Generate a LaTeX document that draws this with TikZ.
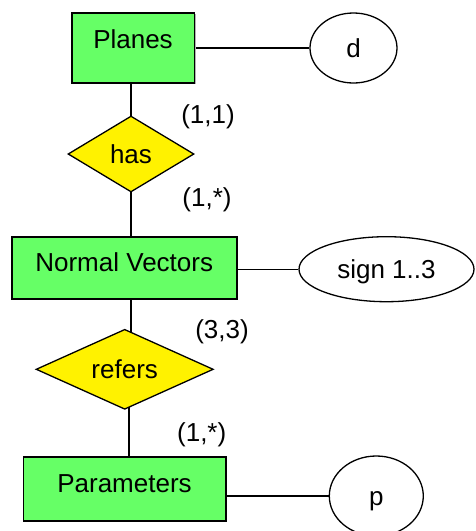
\documentclass[tikz,border=0pt]{standalone}
\usepackage{fontspec}
\setmainfont{Liberation Sans}
\usetikzlibrary{shapes.geometric,backgrounds,shadows}
\definecolor{entgreen}{HTML}{66FF66}
\begin{document}
\begin{tikzpicture}[x=1pt,y=-1pt,
  every node/.style={font=\fontsize{26}{31}\selectfont},
  entity/.style={rectangle, draw, line width=1.6pt, fill=entgreen, inner sep=0pt, text height=19pt,
    drop shadow={shadow xshift=1.3pt, shadow yshift=-1.3pt, fill=black!30, opacity=1}},
  relation/.style={diamond, draw, line width=1.3pt, fill=yellow, inner sep=0pt, text height=19pt, text depth=0pt},
  attribute/.style={ellipse, draw, line width=1.3pt, fill=white, inner sep=0pt, text height=19pt, text depth=0pt},
  link/.style={line width=1.3pt},
  card/.style={inner sep=0pt}]
\useasboundingbox (0,0) rectangle (475,531);
\node[entity, minimum width=122.6pt, minimum height=70pt, text depth=18pt] (planes) at (133,47.7) {Planes};
\node[entity, minimum width=225pt, minimum height=62.3pt, text depth=12pt] (nv) at (124.2,267.9) {Normal Vectors};
\node[entity, minimum width=202.4pt, minimum height=64pt, text depth=11.4pt] (params) at (124.5,488.7) {Parameters};
\node[relation, aspect=1.66, minimum width=126pt, minimum height=76pt] (has) at (131,154) {has};
\node[relation, aspect=2.2, minimum width=177.3pt, minimum height=80pt] (refers) at (124.7,369.3) {refers};
\node[attribute, minimum width=87pt, minimum height=70pt] (d) at (353.5,48) {d};
\node[attribute, minimum width=175pt, minimum height=65pt] (sign) at (386.5,269.2) {sign 1..3};
\node[attribute, minimum width=94pt, minimum height=80pt] (p) at (376.3,496) {p};
\node[card] (c1) at (208,117) {(1,1)};
\node[card] (c2) at (207,200) {(1,*)};
\node[card] (c3) at (222,332) {(3,3)};
\node[card] (c4) at (201.7,435) {(1,*)};
\begin{scope}[on background layer]
\draw[link] (planes.east |- d.west) -- (d.west);
\draw[link] (sign.west -| nv.east) -- (sign.west);
\draw[link] (p.west -| params.east) -- (p.west);
\draw[link] (has.center |- planes.south) -- (has.center);
\draw[link] (has.center) -- (has.center |- nv.north);
\draw[link] (has.center |- nv.south) -- (has.center |- refers.center);
\draw[link] ([xshift=4.3pt]refers.center) -- ([xshift=4.3pt]refers.center |- params.north);
\end{scope}
\end{tikzpicture}
\end{document}
